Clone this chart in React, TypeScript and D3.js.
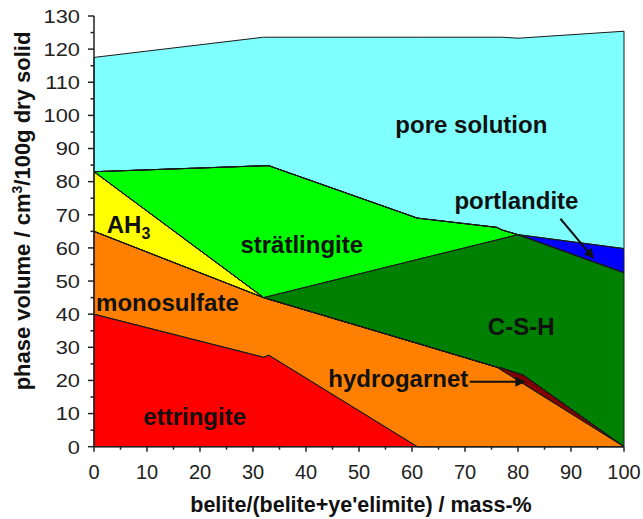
import React from "react";
import * as d3 from "d3";

// ---- data (phase volumes, cm3/100 g dry solid) ----
const xs = [0, 32, 33, 61, 76, 77, 80, 81, 100];
const ettringite = [40, 27, 27.6, 0, 0, 0, 0, 0, 0];
const monosulfate = [25, 18, 16.9, 31.2, 24, 23, 20, 19, 0];
const hydrogarnet = [0, 0, 0, 0, 0, 0.7, 2.1, 2.6, 0];
const ah3 = [18, 0, 0, 0, 0, 0, 0, 0, 0];
const csh = [0, 0, 0.9, 25.3, 38.4, 39.1, 41.9, 41.8, 52.5];
const stratlingite = [0, 39.8, 39.4, 12.5, 3.8, 2.6, 0, 0, 0];
const portlandite = [0, 0, 0, 0, 0, 0, 0, 0.4, 7.3];
const poreSolution = [34.5, 38.8, 38.8, 54.6, 57.4, 58.2, 59.3, 59.6, 65.6];

const xTicks = [0, 10, 20, 30, 40, 50, 60, 70, 80, 90, 100];
const yTicks = [0, 10, 20, 30, 40, 50, 60, 70, 80, 90, 100, 110, 120, 130];

const phaseKeys = ["ettringite", "monosulfate", "hydrogarnet", "ah3", "csh", "stratlingite", "portlandite", "pore"];
const phaseSeries: Record<string, number[]> = {
  ettringite, monosulfate, hydrogarnet, ah3, csh, stratlingite, portlandite, pore: poreSolution,
};
const phaseColors: Record<string, string> = {
  ettringite: "#ff0000",
  monosulfate: "#ff8000",
  hydrogarnet: "#800000",
  ah3: "#ffff00",
  csh: "#008000",
  stratlingite: "#00ff00",
  portlandite: "#0000ff",
  pore: "#80ffff",
};

// arrows: [x1, y1, x2, y2] in data units
const portlanditeArrow = [88, 68.8, 94.2, 57];
const hydrogarnetArrow = [70.9, 19.6, 81.2, 19.6];

const W = 643, H = 519;
const x = d3.scaleLinear().domain([0, 100]).range([94, 624]);
const y = d3.scaleLinear().domain([0, 130]).range([446.7, 16]);

const FONT = "'Liberation Sans', Arial, Helvetica, sans-serif";

export default function App() {
  const table = xs.map((xv, i) => {
    const row: any = { x: xv };
    phaseKeys.forEach((k) => (row[k] = phaseSeries[k][i]));
    return row;
  });
  const stacked = d3.stack<any>().keys(phaseKeys)(table);
  const area = d3
    .area<any>()
    .x((d) => x(d.data.x))
    .y0((d) => y(d[0]))
    .y1((d) => y(d[1]));

  const minorX = d3.range(5, 100, 10);
  const minorY = d3.range(5, 130, 10);
  const axisColor = "#222";
  const labelStyle = { fontFamily: FONT, fontWeight: 700, fontSize: 24, fill: "#111" } as const;

  return (
    <svg width={W} height={H} style={{ position: "absolute", left: 0, top: 0, background: "#fff" }}>
      <defs>
        <marker id="ah" viewBox="0 0 10 10" refX="9" refY="5" markerWidth="5" markerHeight="5" orient="auto-start-reverse">
          <path d="M0,0 L10,5 L0,10 z" fill="#111" />
        </marker>
      </defs>
      {stacked.map((s) => (
        <path key={s.key} d={area(s) || ""} fill={phaseColors[s.key]} stroke="none" />
      ))}
      {stacked.map((s) => (
        <path key={s.key + "-o"} d={area(s) || ""} fill="none" stroke="#1a1a1a" strokeWidth={1} strokeLinejoin="round" />
      ))}

      {/* axes */}
      <line x1={x(0)} x2={x(100)} y1={y(0)} y2={y(0)} stroke={axisColor} strokeWidth={1.5} />
      <line x1={x(0)} x2={x(0)} y1={y(0)} y2={y(130)} stroke={axisColor} strokeWidth={1.5} />
      {xTicks.map((t) => (
        <g key={"xt" + t}>
          <line x1={x(t)} x2={x(t)} y1={y(0)} y2={y(0) + 5} stroke={axisColor} strokeWidth={1.5} />
          <text x={x(t)} y={479} textAnchor="middle" fontFamily={FONT} fontSize={20} fill="#222">{t}</text>
        </g>
      ))}
      {minorX.map((t) => (
        <line key={"xm" + t} x1={x(t)} x2={x(t)} y1={y(0)} y2={y(0) + 3} stroke={axisColor} strokeWidth={1.5} />
      ))}
      {yTicks.map((t) => (
        <g key={"yt" + t}>
          <line x1={x(0) - 6} x2={x(0)} y1={y(t)} y2={y(t)} stroke={axisColor} strokeWidth={1.5} />
          <text
            transform={`translate(${x(0) - 14},${y(t) + 6.8}) scale(1.15,1)`}
            textAnchor="end"
            fontFamily={FONT}
            fontSize={19}
            fill="#222"
          >
            {t}
          </text>
        </g>
      ))}
      {minorY.map((t) => (
        <line key={"ym" + t} x1={x(0) - 3.5} x2={x(0)} y1={y(t)} y2={y(t)} stroke={axisColor} strokeWidth={1.5} />
      ))}

      {/* axis titles */}
      <text x={(x(0) + x(100)) / 2 + 2} y={512} textAnchor="middle" fontFamily={FONT} fontWeight={700} fontSize={21.5} fill="#111">
        belite/(belite+ye'elimite) / mass-%
      </text>
      <text
        transform={`translate(29.5,${211}) rotate(-90)`}
        textAnchor="middle"
        fontFamily={FONT}
        fontWeight={700}
        fontSize={22}
        fill="#111"
      >
        phase volume / cm<tspan dy={-8} fontSize={14}>3</tspan>
        <tspan dy={8}>/100g dry solid</tspan>
      </text>

      {/* phase labels */}
      <text x={x(71.2)} y={y(94.8)} textAnchor="middle" {...labelStyle}>pore solution</text>
      <text x={x(79.7)} y={y(71.7)} textAnchor="middle" {...labelStyle}>portlandite</text>
      <text x={x(39.2)} y={y(58.4)} textAnchor="middle" {...labelStyle}>strätlingite</text>
      <text x={x(2.4)} y={y(64.4)} textAnchor="start" {...labelStyle}>
        AH<tspan dy={6} fontSize={16}>3</tspan>
      </text>
      <text x={x(0.4)} y={y(41)} textAnchor="start" {...labelStyle}>monosulfate</text>
      <text x={x(19)} y={y(6.5)} textAnchor="middle" {...labelStyle}>ettringite</text>
      <text x={x(44.2)} y={y(18.1)} textAnchor="start" {...labelStyle}>hydrogarnet</text>
      <text x={x(80.6)} y={y(33.7)} textAnchor="middle" {...labelStyle}>C-S-H</text>

      {/* arrows */}
      <line
        x1={x(portlanditeArrow[0])} y1={y(portlanditeArrow[1])}
        x2={x(portlanditeArrow[2])} y2={y(portlanditeArrow[3])}
        stroke="#111" strokeWidth={2} markerEnd="url(#ah)"
      />
      <line
        x1={x(hydrogarnetArrow[0])} y1={y(hydrogarnetArrow[1])}
        x2={x(hydrogarnetArrow[2])} y2={y(hydrogarnetArrow[3])}
        stroke="#111" strokeWidth={2} markerEnd="url(#ah)"
      />
    </svg>
  );
}
